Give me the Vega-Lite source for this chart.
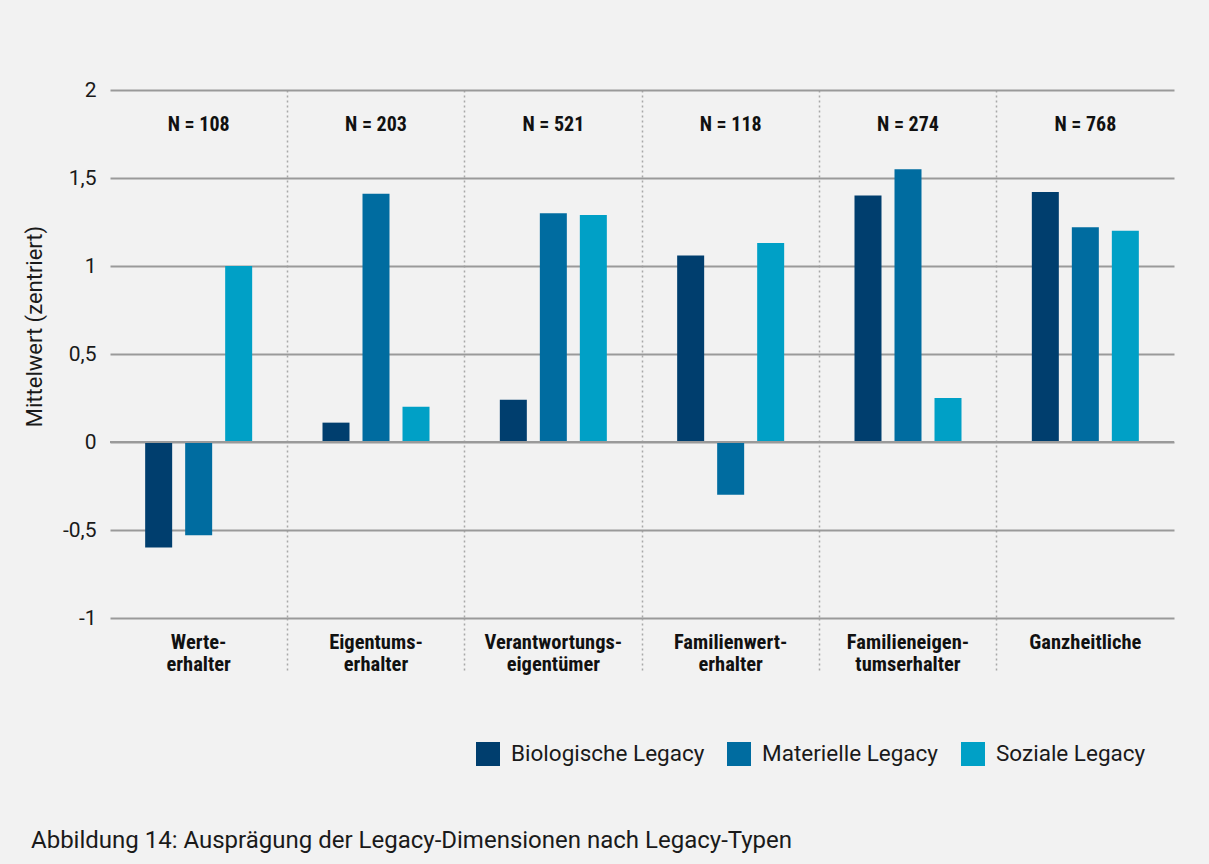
{
  "$schema": "https://vega.github.io/schema/vega-lite/v6.json",
  "width": 1064,
  "height": 528,
  "autosize": {"type": "none"},
  "padding": {"left": 110, "top": 90, "right": 35, "bottom": 246},
  "background": "#f2f2f2",
  "config": {
    "view": {"stroke": null},
    "font": "Roboto"
  },
  "title": {
    "text": "Abbildung 14: Ausprägung der Legacy-Dimensionen nach Legacy-Typen",
    "orient": "bottom",
    "anchor": "start",
    "frame": "group",
    "dx": -79,
    "offset": 63,
    "baseline": "top",
    "font": "Roboto",
    "fontSize": 24,
    "fontWeight": "normal",
    "color": "#1a1a1a"
  },
  "datasets": {
    "werte": [
      {"typ": "Werte-\nerhalter", "dimension": "Biologische Legacy", "wert": -0.60},
      {"typ": "Werte-\nerhalter", "dimension": "Materielle Legacy", "wert": -0.53},
      {"typ": "Werte-\nerhalter", "dimension": "Soziale Legacy", "wert": 1.00},
      {"typ": "Eigentums-\nerhalter", "dimension": "Biologische Legacy", "wert": 0.11},
      {"typ": "Eigentums-\nerhalter", "dimension": "Materielle Legacy", "wert": 1.41},
      {"typ": "Eigentums-\nerhalter", "dimension": "Soziale Legacy", "wert": 0.20},
      {"typ": "Verantwortungs-\neigentümer", "dimension": "Biologische Legacy", "wert": 0.24},
      {"typ": "Verantwortungs-\neigentümer", "dimension": "Materielle Legacy", "wert": 1.30},
      {"typ": "Verantwortungs-\neigentümer", "dimension": "Soziale Legacy", "wert": 1.29},
      {"typ": "Familienwert-\nerhalter", "dimension": "Biologische Legacy", "wert": 1.06},
      {"typ": "Familienwert-\nerhalter", "dimension": "Materielle Legacy", "wert": -0.30},
      {"typ": "Familienwert-\nerhalter", "dimension": "Soziale Legacy", "wert": 1.13},
      {"typ": "Familieneigen-\ntumserhalter", "dimension": "Biologische Legacy", "wert": 1.40},
      {"typ": "Familieneigen-\ntumserhalter", "dimension": "Materielle Legacy", "wert": 1.55},
      {"typ": "Familieneigen-\ntumserhalter", "dimension": "Soziale Legacy", "wert": 0.25},
      {"typ": "Ganzheitliche", "dimension": "Biologische Legacy", "wert": 1.42},
      {"typ": "Ganzheitliche", "dimension": "Materielle Legacy", "wert": 1.22},
      {"typ": "Ganzheitliche", "dimension": "Soziale Legacy", "wert": 1.20}
    ],
    "fallzahlen": [
      {"typ": "Werte-\nerhalter", "n": "N = 108"},
      {"typ": "Eigentums-\nerhalter", "n": "N = 203"},
      {"typ": "Verantwortungs-\neigentümer", "n": "N = 521"},
      {"typ": "Familienwert-\nerhalter", "n": "N = 118"},
      {"typ": "Familieneigen-\ntumserhalter", "n": "N = 274"},
      {"typ": "Ganzheitliche", "n": "N = 768"}
    ]
  },
  "encoding": {
    "x": {
      "field": "typ",
      "type": "nominal",
      "sort": null,
      "scale": {"paddingInner": 0, "paddingOuter": 0},
      "axis": {
        "title": null,
        "orient": "bottom",
        "domain": false,
        "bandPosition": 0,
        "grid": true,
        "gridDash": [2, 3],
        "gridWidth": 1.5,
        "gridColor": {"condition": {"test": "indexof(datum.value, 'Werte') === 0", "value": "transparent"}, "value": "#a8a8a8"},
        "ticks": true,
        "tickSize": 54,
        "tickDash": [2, 3],
        "tickWidth": 1.5,
        "tickColor": {"condition": {"test": "indexof(datum.value, 'Werte') === 0", "value": "transparent"}, "value": "#a8a8a8"},
        "labelExpr": "split(datum.label, '\\n')",
        "labelAngle": 0,
        "labelPadding": -40,
        "labelBaseline": "top",
        "labelLineHeight": 22,
        "labelFont": "'Roboto Condensed', 'Liberation Sans Narrow', Roboto, sans-serif",
        "labelFontSize": 20.5,
        "labelFontWeight": "bold",
        "labelColor": "#111111",
        "labelLimit": 300
      }
    },
    "y": {
      "type": "quantitative",
      "scale": {"domain": [-1, 2], "nice": false, "zero": false},
      "axis": {
        "title": "Mittelwert (zentriert)",
        "values": [-1, -0.5, 0, 0.5, 1, 1.5, 2],
        "labelExpr": "replace(toString(datum.value), '.', ',')",
        "domain": false,
        "ticks": false,
        "grid": true,
        "gridColor": "#9a9a9a",
        "gridWidth": 2,
        "labelPadding": 14,
        "labelFont": "Roboto",
        "labelFontSize": 21,
        "labelColor": "#1a1a1a",
        "titleFont": "Roboto",
        "titleFontSize": 22,
        "titleFontWeight": "normal",
        "titleColor": "#1a1a1a",
        "titleAngle": 270,
        "titleAlign": "center",
        "titleBaseline": "middle",
        "titleX": -76,
        "titleY": 236
      }
    }
  },
  "layer": [
    {
      "data": {"name": "werte"},
      "mark": {"type": "bar"},
      "encoding": {
        "y": {"field": "wert"},
        "xOffset": {
          "field": "dimension",
          "type": "nominal",
          "sort": ["Biologische Legacy", "Materielle Legacy", "Soziale Legacy"],
          "scale": {"paddingInner": 0.325, "paddingOuter": 0.879}
        },
        "color": {
          "field": "dimension",
          "type": "nominal",
          "sort": ["Biologische Legacy", "Materielle Legacy", "Soziale Legacy"],
          "scale": {"range": ["#003e6e", "#006ca0", "#00a0c6"]},
          "legend": {
            "title": null,
            "orient": "none",
            "direction": "horizontal",
            "legendX": 366,
            "legendY": 652,
            "symbolType": "square",
            "symbolSize": 576,
            "symbolStrokeWidth": 0,
            "symbolOpacity": 1,
            "labelFont": "Roboto",
            "labelFontSize": 22.5,
            "labelColor": "#1a1a1a",
            "labelOffset": 11,
            "columnPadding": 22,
            "labelLimit": 300
          }
        }
      }
    },
    {
      "data": {"name": "werte"},
      "mark": {"type": "rule", "color": "#9a9a9a", "strokeWidth": 2},
      "encoding": {"y": {"datum": 0}, "x": null}
    },
    {
      "data": {"name": "fallzahlen"},
      "mark": {
        "type": "text",
        "font": "'Roboto Condensed', 'Liberation Sans Narrow', Roboto, sans-serif",
        "fontSize": 20,
        "fontWeight": "bold",
        "color": "#111111",
        "baseline": "middle",
        "align": "center"
      },
      "encoding": {
        "y": {"datum": 1.8},
        "text": {"field": "n"}
      }
    }
  ]
}
